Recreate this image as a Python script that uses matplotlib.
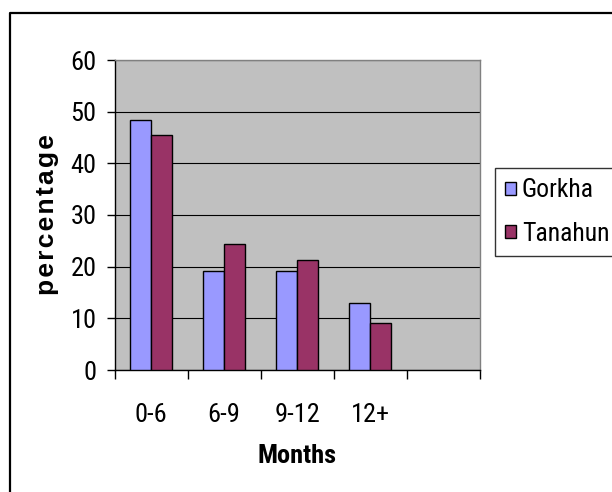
import numpy as np
import matplotlib.pyplot as plt
from matplotlib.lines import Line2D
from matplotlib.patches import Patch

months = ["0-6", "6-9", "9-12", "12+", ""]
gorkha = [48.4, 19.2, 19.2, 13.0]
tanahun = [45.4, 24.4, 21.2, 9.1]
series_names = ["Gorkha", "Tanahun"]
colors = ["#9999FF", "#993366"]

narrow = ["Roboto Condensed", "Liberation Sans", "DejaVu Sans"]
wide = ["Liberation Sans", "DejaVu Sans"]
fs = 19

W, H = 612, 492
fig = plt.figure(figsize=(W / 100, H / 100), dpi=100)
ax = fig.add_axes([114.5 / W, 1 - 370 / H, 365.5 / W, 310 / H])

# outer chart frame (cut off at the right and bottom)
fig.add_artist(Line2D([10 / W, 10 / W, 1.0], [0.0, 1 - 13 / H, 1 - 13 / H],
                      transform=fig.transFigure, color="black", lw=1.6))

ax.set_facecolor("#C0C0C0")
x = np.arange(len(gorkha))
w = 1 / 3.5
ax.bar(x - w / 2, gorkha, w, color=colors[0], edgecolor="black", lw=1.0, zorder=3)
ax.bar(x + w / 2, tanahun, w, color=colors[1], edgecolor="black", lw=1.0, zorder=3)

ax.set_ylim(0, 60)
ax.set_yticks(np.arange(0, 61, 10))
ax.yaxis.grid(True, color="black", lw=0.8, zorder=1)
ax.set_axisbelow(True)

ax.set_xlim(-0.5, len(months) - 0.5)
ax.set_xticks(np.arange(len(months) + 1) - 0.5)
ax.set_xticklabels([])
ax.set_xticks(np.arange(len(months)), minor=True)
ax.set_xticklabels(months, minor=True, family=narrow, fontsize=fs)
ax.tick_params(axis="x", which="minor", length=0, pad=24)
ax.tick_params(axis="x", which="major", length=6.5, width=1, color="black")
ax.tick_params(axis="y", length=6, width=1, pad=7, color="black")
for lbl in ax.get_yticklabels():
    lbl.set_family(narrow)
    lbl.set_fontsize(fs)

for side in ("left", "bottom"):
    ax.spines[side].set_color("black")
    ax.spines[side].set_linewidth(1.0)
for side in ("top", "right"):
    ax.spines[side].set_color("#808080")
    ax.spines[side].set_linewidth(1.0)

ax.set_xlabel("Months", family=narrow, fontsize=fs, fontweight="bold", labelpad=12)
# letter-spaced axis title
ax.set_ylabel("\u200a".join("percentage"), family=wide, fontsize=19,
              fontweight="bold", labelpad=8)

handles = [Patch(facecolor=c, edgecolor="black", lw=1.0) for c in colors]
leg = fig.legend(handles, series_names, loc="upper left",
                 bbox_to_anchor=(495 / W, 1 - 168 / H),
                 prop={"family": narrow, "size": 18.5},
                 frameon=True, fancybox=False, shadow=False,
                 handlelength=0.4, handleheight=0.4, handletextpad=0.25,
                 labelspacing=0.75, borderpad=0.4, borderaxespad=0)
leg.get_frame().set_edgecolor("black")
leg.get_frame().set_linewidth(1.0)

fig.savefig("out.png", dpi=100)
